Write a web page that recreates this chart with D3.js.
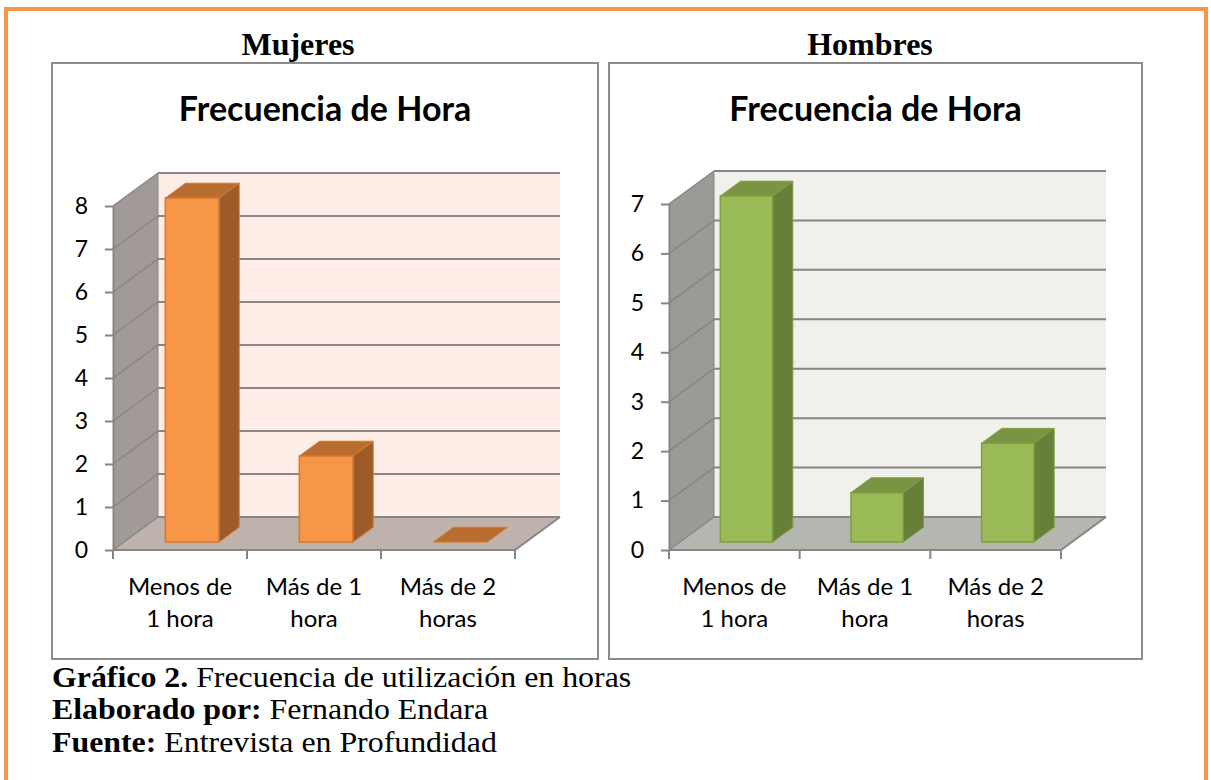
<!DOCTYPE html>
<html>
<head>
<meta charset="utf-8">
<script src="https://cdn.jsdelivr.net/npm/d3@7"></script>
<style>
  html, body { margin: 0; padding: 0; background: #ffffff; }
  svg { display: block; }
</style>
</head>
<body>
<svg id="chart" width="1211" height="780"></svg>
<script>
// Data
const categories = ['Menos de 1 hora', 'Más de 1 hora', 'Más de 2 horas'];
const categoryLines = [['Menos de', '1 hora'], ['Más de 1', 'hora'], ['Más de 2', 'horas']];
const mujeresValues = [8, 2, 0];
const hombresValues = [7, 1, 2];
const mujeresTicks = [0, 1, 2, 3, 4, 5, 6, 7, 8];
const hombresTicks = [0, 1, 2, 3, 4, 5, 6, 7];
const chartTitle = 'Frecuencia de Hora';
const captionLines = [
  ['Gráfico 2.', ' Frecuencia de utilización en horas'],
  ['Elaborado por:', ' Fernando Endara'],
  ['Fuente:', ' Entrevista en Profundidad']
];

const svg = d3.select('#chart');

// outer orange frame (bottom edge runs off the page)
svg.append('rect')
  .attr('x', 6).attr('y', 9)
  .attr('width', 1200).attr('height', 800)
  .attr('fill', 'none')
  .attr('stroke', '#f79646')
  .attr('stroke-width', 4);

const DX = 45, DY = 33;         // depth of the 3D box
const Z0 = 0.24, Z1 = 0.69;     // bar front / back depth
const GRID = '#868686';
const SANS = 'Lato, "Open Sans", sans-serif';

function drawChart(opts) {
  const { panel, heading, headingX, values, ticks, x0, x1, yTop, colors } = opts;
  const y0 = 550;

  // panel frame
  svg.append('rect')
    .attr('x', panel[0]).attr('y', panel[1])
    .attr('width', panel[2]).attr('height', panel[3])
    .attr('fill', '#ffffff')
    .attr('stroke', '#8c8c8c')
    .attr('stroke-width', 2);

  svg.append('text')
    .attr('x', headingX).attr('y', 55)
    .attr('text-anchor', 'middle')
    .style('font-family', '"Liberation Serif", "Times New Roman", serif')
    .style('font-weight', 'bold')
    .style('font-size', '32px')
    .text(heading);

  svg.append('text')
    .attr('x', panel[0] + panel[2] / 2).attr('y', 121)
    .attr('text-anchor', 'middle')
    .style('font-family', SANS)
    .style('font-weight', 'bold')
    .style('font-size', '34px')
    .text(chartTitle);

  const x = d3.scaleBand().domain(categories).range([x0, x1]);
  const y = d3.scaleLinear().domain([0, d3.max(ticks)]).range([y0, yTop]);
  const P = (xf, v, z) => [xf + z * DX, y(v) - z * DY];
  const vMax = d3.max(ticks);

  const g = svg.append('g');
  const poly = pts => pts.map(p => p.join(',')).join(' ');

  // left wall
  g.append('polygon')
    .attr('points', poly([P(x0, vMax, 0), P(x0, vMax, 1), P(x0, 0, 1), P(x0, 0, 0)]))
    .attr('fill', colors.side);
  // back wall
  g.append('polygon')
    .attr('points', poly([P(x0, vMax, 1), P(x1, vMax, 1), P(x1, 0, 1), P(x0, 0, 1)]))
    .attr('fill', colors.back);
  // floor
  g.append('polygon')
    .attr('points', poly([P(x0, 0, 0), P(x1, 0, 0), P(x1, 0, 1), P(x0, 0, 1)]))
    .attr('fill', colors.floor);

  // gridlines on back wall and left wall
  g.selectAll('.gback').data(ticks).join('line')
    .attr('x1', x0 + DX).attr('x2', x1 + DX)
    .attr('y1', d => y(d) - DY).attr('y2', d => y(d) - DY)
    .attr('stroke', GRID).attr('stroke-width', 2);
  g.selectAll('.gside').data(ticks).join('line')
    .attr('x1', x0).attr('x2', x0 + DX)
    .attr('y1', d => y(d)).attr('y2', d => y(d) - DY)
    .attr('stroke', GRID).attr('stroke-width', 1.5);
  g.append('line')
    .attr('x1', x0 + DX).attr('x2', x0 + DX)
    .attr('y1', y(vMax) - DY).attr('y2', y0 - DY)
    .attr('stroke', GRID).attr('stroke-width', 1);
  // floor front and right edges
  g.append('polyline')
    .attr('points', poly([P(x0, 0, 0), P(x1, 0, 0), P(x1, 0, 1)]))
    .attr('fill', 'none').attr('stroke', GRID).attr('stroke-width', 2);

  // bars
  const bw = x.bandwidth();
  const bars = g.selectAll('.bar')
    .data(values.map((v, i) => ({ cat: categories[i], v })))
    .join('g');
  bars.each(function (d) {
    const b = d3.select(this);
    const xl = x(d.cat) + bw * 0.31;
    const xr = xl + bw * 0.40;
    b.append('polygon')
      .attr('points', poly([P(xr, 0, Z0), P(xr, 0, Z1), P(xr, d.v, Z1), P(xr, d.v, Z0)]))
      .attr('fill', colors.barSide).attr('stroke', colors.barLine).attr('stroke-width', 1);
    b.append('polygon')
      .attr('points', poly([P(xl, d.v, Z0), P(xr, d.v, Z0), P(xr, d.v, Z1), P(xl, d.v, Z1)]))
      .attr('fill', colors.barTop).attr('stroke', colors.barLine).attr('stroke-width', 1);
    if (d.v > 0) {
      b.append('polygon')
        .attr('points', poly([P(xl, 0, Z0), P(xr, 0, Z0), P(xr, d.v, Z0), P(xl, d.v, Z0)]))
        .attr('fill', colors.bar).attr('stroke', colors.barLine).attr('stroke-width', 1.5);
    }
  });

  // y axis
  const yAxis = d3.axisLeft(y).tickValues(ticks).tickSize(8).tickSizeOuter(0).tickPadding(17)
    .tickFormat(d3.format('d'));
  const ya = svg.append('g').attr('transform', `translate(${x0},0)`).call(yAxis);
  ya.selectAll('line').attr('stroke', GRID).attr('stroke-width', 2);
  ya.select('.domain').attr('stroke', GRID).attr('stroke-width', 2);
  ya.selectAll('text')
    .style('font-family', SANS)
    .style('font-size', '23px')
    .attr('fill', '#000');

  // x axis: ticks at band edges, labels centred in bands
  const edges = categories.map(c => x(c)).concat([x1]);
  svg.append('g').selectAll('line').data(edges).join('line')
    .attr('x1', d => d).attr('x2', d => d)
    .attr('y1', y0).attr('y2', y0 + 9)
    .attr('stroke', GRID).attr('stroke-width', 2);
  const lbl = svg.append('g').selectAll('text').data(categories).join('text')
    .attr('text-anchor', 'middle')
    .style('font-family', SANS)
    .style('font-size', '24px')
    .attr('fill', '#000');
  lbl.each(function (c, i) {
    const t = d3.select(this);
    categoryLines[i].forEach((line, k) => {
      t.append('tspan')
        .attr('x', x(c) + bw / 2)
        .attr('y', 595 + k * 32)
        .text(line);
    });
  });
}

drawChart({
  panel: [52, 63, 546, 596],
  heading: 'Mujeres', headingX: 298,
  values: mujeresValues, ticks: mujeresTicks,
  x0: 113, x1: 515, yTop: 206,
  colors: {
    side: '#a19a97', back: '#fdede6', floor: '#bfb2ac',
    bar: '#f79646', barSide: '#9c5b29', barTop: '#b96c30', barLine: '#d9772f'
  }
});

drawChart({
  panel: [609, 63, 533, 596],
  heading: 'Hombres', headingX: 870,
  values: hombresValues, ticks: hombresTicks,
  x0: 669, x1: 1061, yTop: 204,
  colors: {
    side: '#999b96', back: '#eff1ea', floor: '#b4b7af',
    bar: '#9bbb59', barSide: '#66803a', barTop: '#7a9443', barLine: '#7f9d43'
  }
});

// caption (slightly widened, as in the source document)
const capG = svg.append('g').attr('transform', 'translate(52,0) scale(1.08,1)');
const cap = capG.selectAll('text').data(captionLines).join('text')
  .attr('x', 0)
  .attr('y', (d, i) => 687 + i * 32.5)
  .style('font-family', '"Liberation Serif", "Times New Roman", serif')
  .style('font-size', '29.5px')
  .attr('fill', '#000');
cap.append('tspan').style('font-weight', 'bold').text(d => d[0]);
cap.append('tspan').text(d => d[1]);
</script>
</body>
</html>
